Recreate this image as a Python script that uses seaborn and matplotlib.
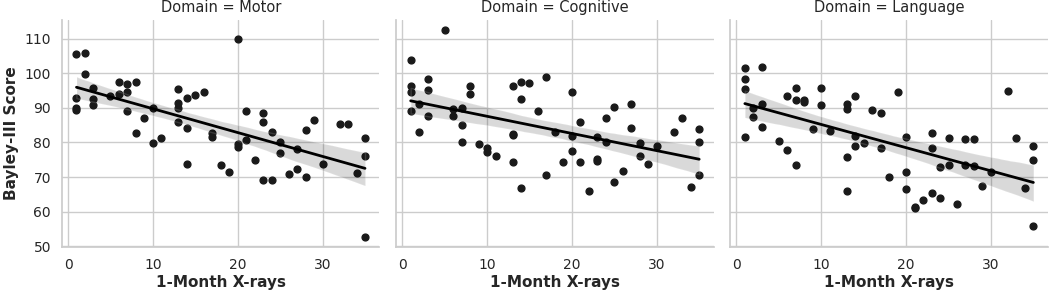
import pandas as pd
import matplotlib
matplotlib.use("Agg")
import matplotlib.pyplot as plt
import seaborn as sns

# number of x-rays at one month (same patients in every domain)
xrays = [1, 1, 1, 1, 2, 2, 3, 3, 3, 5, 6, 6, 7, 7, 7, 8, 8, 9, 10, 10, 11,
         13, 13, 13, 13, 14, 14, 14, 15, 16, 17, 17, 18, 19, 20, 20, 20,
         21, 21, 22, 23, 23, 23, 24, 24, 25, 25, 26, 27, 27, 28, 28, 29,
         30, 32, 33, 34, 35, 35, 35]

motor = [105.5, 92.9, 90.1, 89.4, 105.8, 99.8, 95.8, 92.7, 90.7, 93.4,
         97.4, 94.1, 97.0, 94.5, 89.1, 97.4, 82.8, 87.2, 90.1, 79.9, 81.3,
         95.6, 91.3, 89.9, 85.9, 93.0, 84.3, 73.9, 93.7, 94.7, 82.8, 81.6,
         73.5, 71.6, 110.0, 79.7, 78.7, 89.2, 80.8, 74.8, 88.4, 85.9, 69.1,
         82.9, 69.1, 80.2, 77.0, 71.0, 78.2, 72.4, 83.7, 70.1, 86.4, 73.8,
         85.2, 85.4, 71.1, 81.2, 76.1, 52.8]

cognitive = [103.8, 96.4, 94.7, 89.2, 91.0, 83.1, 98.4, 95.2, 87.7, 112.4,
             89.7, 87.6, 90.1, 85.0, 80.0, 96.3, 93.9, 79.7, 78.3, 77.3, 76.2,
             96.4, 82.3, 82.5, 74.5, 97.6, 92.6, 66.9, 97.2, 89.1, 98.9, 70.6,
             82.9, 74.3, 94.7, 81.9, 77.6, 85.8, 74.5, 66.0, 81.6, 75.3, 74.6,
             87.0, 80.1, 90.2, 68.5, 71.8, 91.0, 84.2, 79.9, 76.2, 73.7, 79.0,
             83.0, 87.1, 67.0, 84.0, 80.1, 70.7]

language = [101.4, 98.4, 95.6, 81.6, 90.0, 87.3, 101.8, 91.0, 84.5, 80.4,
            93.3, 77.8, 95.7, 92.4, 73.6, 92.3, 91.6, 83.9, 95.7, 90.7, 83.3,
            91.0, 89.6, 75.8, 65.9, 93.4, 82.0, 78.9, 79.9, 89.5, 88.6, 78.5,
            70.0, 94.5, 81.5, 71.5, 66.5, 61.4, 61.2, 63.3, 82.7, 78.3, 65.4,
            73.0, 64.0, 81.4, 73.5, 62.3, 81.0, 73.5, 81.0, 73.1, 67.5, 71.4,
            95.0, 81.4, 66.8, 78.9, 74.9, 55.9]

domains = ["Motor", "Cognitive", "Language"]

# long format table for lmplot
df = pd.concat([
    pd.DataFrame({"1-Month X-rays": xrays, "Bayley-III Score": s, "Domain": d})
    for d, s in zip(domains, [motor, cognitive, language])
], ignore_index=True)

sns.set_theme(style="whitegrid")
plt.rcParams["font.family"] = ["DejaVu Sans"]

g = sns.lmplot(data=df, x="1-Month X-rays", y="Bayley-III Score", col="Domain",
               col_order=domains, height=2.95, aspect=1.19, seed=1,
               scatter_kws={"color": "#1a1a1a", "s": 24, "alpha": 1},
               line_kws={"color": "black", "lw": 2})

g.figure.set_size_inches(10.52, 2.95)
g.figure.subplots_adjust(left=0.059, right=0.996, top=0.932, bottom=0.163, wspace=0.053)

for ax in g.axes.flat:
    ax.set_xticks([0, 10, 20, 30])
    ax.set_yticks(range(50, 111, 10))
    ax.tick_params(labelsize=10, pad=2)
    ax.set_xlabel("1-Month X-rays", fontsize=11, fontweight="bold", labelpad=2)
    ax.title.set_fontsize(10.5)
g.axes.flat[0].set_ylabel("Bayley-III Score", fontsize=11, fontweight="bold")

plt.savefig("out.png", dpi=100)
